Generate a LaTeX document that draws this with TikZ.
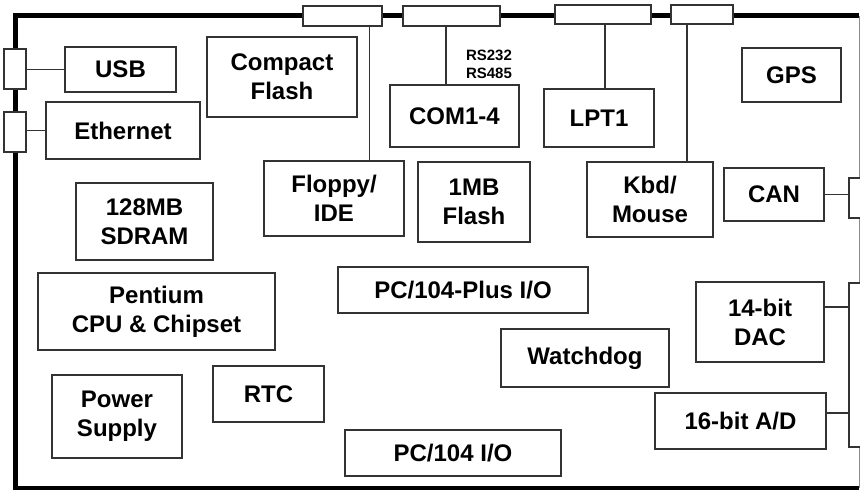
\documentclass[tikz,border=0pt]{standalone}
\usepackage{fontspec}
\setmainfont{Liberation Sans}
\usetikzlibrary{calc}
\definecolor{boxLine}{HTML}{333333}
\definecolor{edgeGrey}{HTML}{8A8A8A}
\tikzset{
  blockbox/.style={rectangle, draw=boxLine, fill=white, line width=1.2pt, align=center, font=\fontsize{24}{29}\selectfont\bfseries, inner sep=0pt},
  portbox/.style={rectangle, draw=boxLine, fill=white, line width=1.2pt, inner sep=0pt},
  linkline/.style={draw=boxLine, line width=1.2pt},
  boardedge/.style={draw=black, line width=4.8pt},
  smalllabel/.style={font=\fontsize{15}{18}\selectfont\bfseries, align=left, inner sep=0pt},
}

\begin{document}
\begin{tikzpicture}[x=1pt,y=-1pt]
  \useasboundingbox (0,0) rectangle (860,491);
  \clip (0,0) rectangle (860,491);
  % board outline
  \draw[boardedge] (859,15.5) -- (15.5,15.5) -- (15.5,488) -- (859,488);
  \draw[draw=edgeGrey, line width=1pt] (859,15.5) -- (859,488);

  % edge connectors
  \node[portbox, minimum width=79, minimum height=20] (pFloppy) at (342.5,16) {};
  \node[portbox, minimum width=97, minimum height=20] (pCom)    at (451.5,16) {};
  \node[portbox, minimum width=96, minimum height=19] (pLpt)    at (603,14.5) {};
  \node[portbox, minimum width=62, minimum height=19] (pKbd)    at (702,14.5) {};
  \node[portbox, minimum width=22, minimum height=40] (pUsb)    at (15,69) {};
  \node[portbox, minimum width=22, minimum height=40] (pEth)    at (15,132) {};
  \node[portbox, minimum width=21, minimum height=40] (pCan)    at (859.5,198) {};
  \node[portbox, minimum width=21, minimum height=164] (pAnalog) at (859.5,365) {};

  % function blocks
  \node[blockbox, minimum width=111, minimum height=45] (usb)      at (120.5,69.5) {USB};
  \node[blockbox, minimum width=154, minimum height=57] (eth)      at (123,130.5)  {Ethernet};
  \node[blockbox, minimum width=150, minimum height=80] (cflash)   at (282,77)     {Compact\\Flash};
  \node[blockbox, minimum width=129, minimum height=62] (com)      at (454.5,116)  {COM1-4};
  \node[blockbox, minimum width=110, minimum height=58] (lpt)      at (599,118)    {LPT1};
  \node[blockbox, minimum width=99,  minimum height=54] (gps)      at (791.5,75)   {GPS};
  \node[blockbox, minimum width=140, minimum height=75] (floppy)   at (334,198.5)  {Floppy/\\IDE};
  \node[blockbox, minimum width=112, minimum height=80] (flash)    at (474,202)    {1MB\\Flash};
  \node[blockbox, minimum width=126, minimum height=75] (kbd)      at (650,199.5)  {Kbd/\\Mouse};
  \node[blockbox, minimum width=100, minimum height=53] (can)      at (774,194.5)  {CAN};
  \node[blockbox, minimum width=137, minimum height=77] (sdram)    at (144.5,221.5) {128MB\\SDRAM};
  \node[blockbox, minimum width=250, minimum height=46] (pciplus)  at (463,290)    {PC/104-Plus I/O};
  \node[blockbox, minimum width=237, minimum height=77] (cpu)      at (156.5,311.5) {Pentium\\CPU \& Chipset};
  \node[blockbox, minimum width=128, minimum height=80] (dac)      at (760,322)    {14-bit\\DAC};
  \node[blockbox, minimum width=168, minimum height=58] (watchdog) at (585,358)    {Watchdog};
  \node[blockbox, minimum width=111, minimum height=56] (rtc)      at (268.5,394)  {RTC};
  \node[blockbox, minimum width=130, minimum height=83] (power)    at (117,416.5)  {Power\\Supply};
  \node[blockbox, minimum width=171, minimum height=56] (adc)      at (740.5,421)  {16-bit A/D};
  \node[blockbox, minimum width=216, minimum height=46] (pcio)     at (453,453)    {PC/104 I/O};

  \node[smalllabel] (rslabel) at (489,64) {RS232\\RS485};

  % links to the connectors
  \coordinate (floppyTap) at ([xshift=-13pt]pFloppy.south east);
  \coordinate (comTap)    at ([xshift=-5.5pt]pCom.south);
  \coordinate (lptTap)    at ([xshift=2pt]pLpt.south);
  \coordinate (kbdTap)    at ([xshift=-15pt]pKbd.south);
  \coordinate (dacTap)    at ([yshift=15pt]dac.east);
  \coordinate (adcTap)    at ([yshift=8pt]adc.east);
  \foreach \t/\b in {floppyTap/floppy, comTap/com, lptTap/lpt, kbdTap/kbd} { \draw[linkline] (\t) -- (\t |- \b.north); }
  \draw[linkline] (usb.west) -- (usb.west -| pUsb.east);
  \draw[linkline] (eth.west) -- (eth.west -| pEth.east);
  \draw[linkline] (can.east) -- (can.east -| pCan.west);
  \draw[linkline] (dacTap) -- (dacTap -| pAnalog.west);
  \draw[linkline] (adcTap) -- (adcTap -| pAnalog.west);
\end{tikzpicture}
\end{document}
